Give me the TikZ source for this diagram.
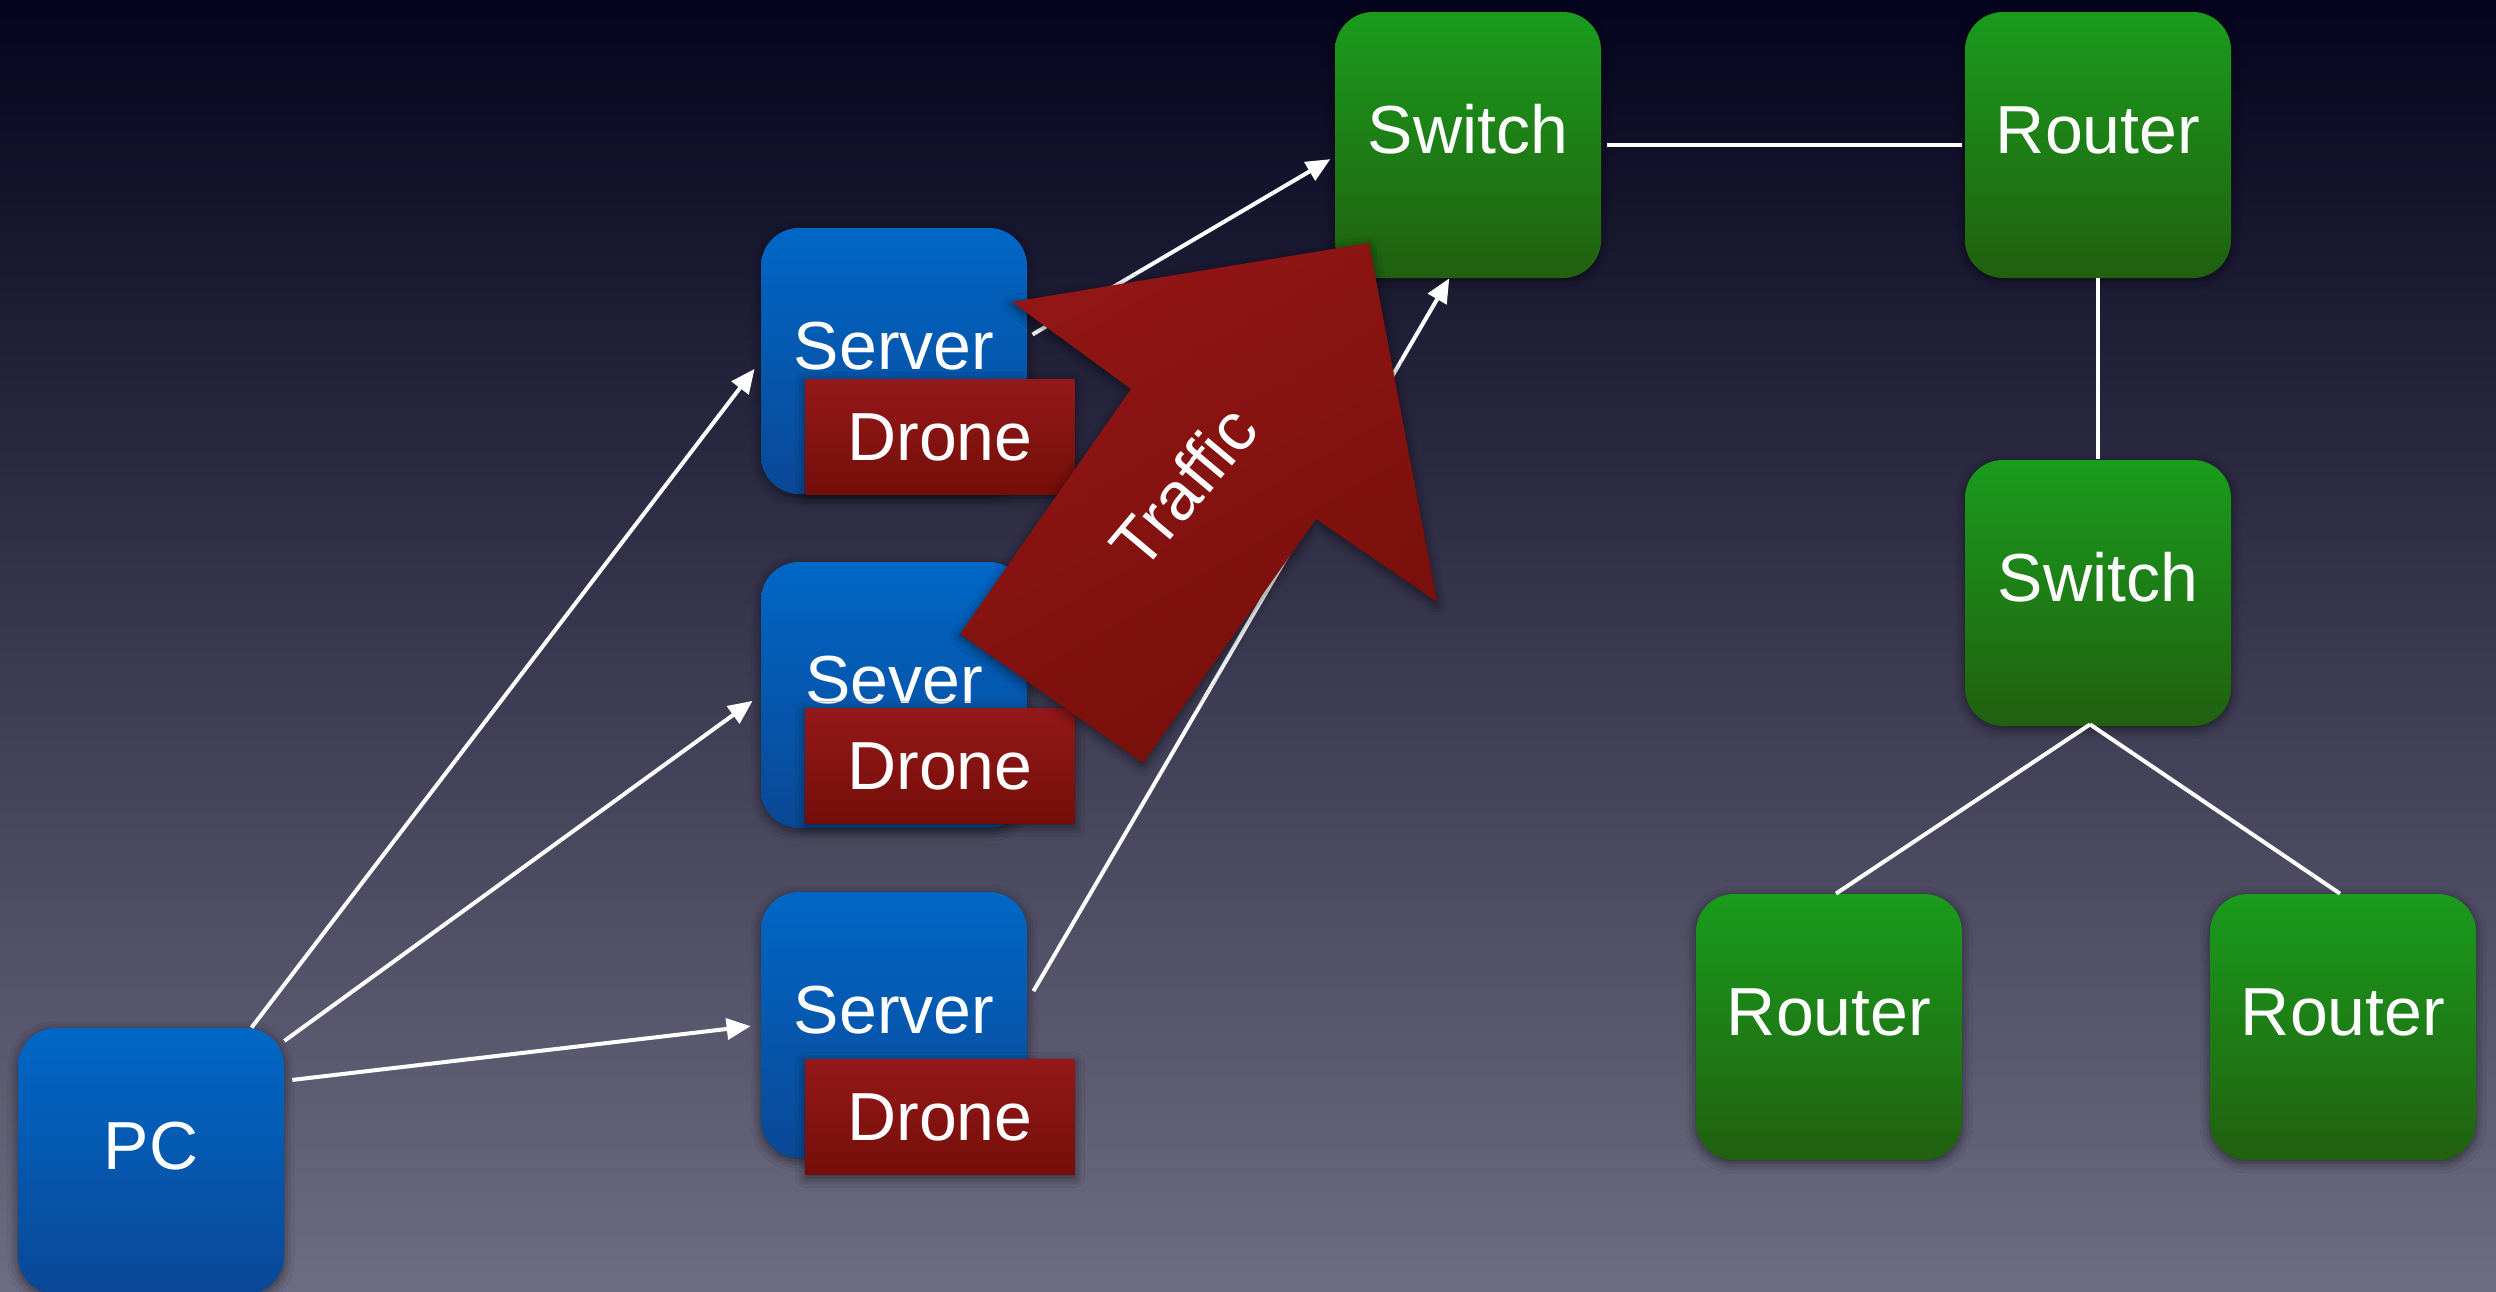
\documentclass[tikz,border=0pt]{standalone}
\usepackage{fontspec}
\setmainfont{Liberation Sans}
\usetikzlibrary{arrows.meta,shadows.blur}
\definecolor{bgtop}{RGB}{5,4,30}
\definecolor{bgbot}{RGB}{110,108,130}
\definecolor{gtop}{RGB}{26,156,28}
\definecolor{gbot}{RGB}{33,96,16}
\definecolor{btop}{RGB}{0,103,198}
\definecolor{bbot}{RGB}{10,72,150}
\definecolor{rtop}{RGB}{148,24,26}
\definecolor{rbot}{RGB}{116,14,8}
\definecolor{atop}{RGB}{146,22,22}
\definecolor{abot}{RGB}{118,15,10}
\begin{document}
\begin{tikzpicture}[x=0.5pt,y=-0.5pt,
  shad/.style={blur shadow={shadow xshift=0pt,shadow yshift=-1.5pt,shadow blur radius=5pt,shadow opacity=55}},
  lbl/.style={text=white,font=\fontsize{34}{40}\selectfont},
  box/.style={shad,lbl,rounded corners=19pt,minimum width=133pt,minimum height=133pt,inner sep=0pt,text height=26pt,text depth=18pt},
  netbox/.style={box,top color=gtop,bottom color=gbot},
  hostbox/.style={box,top color=btop,bottom color=bbot},
  dronebox/.style={shad,lbl,rectangle,minimum width=134.5pt,minimum height=57.5pt,inner sep=0pt,top color=rtop,bottom color=rbot},
  conn/.style={white,line width=2pt},
  arr/.style={conn,-{Triangle[length=12pt,width=10.5pt]}}]
\useasboundingbox (0,0) rectangle (2496,1291);
\shade[top color=bgtop,bottom color=bgbot] (0,0) rectangle (2496,1291);
% hosts
\node[hostbox] (pc) at (151,1161) {PC};
\node[hostbox] (s1) at (894,361) {Server};
\node[hostbox] (s2) at (894,695) {Sever};
\node[hostbox] (s3) at (894,1025) {Server};
\node[dronebox] (d1) at (940,437) {Drone};
\node[dronebox] (d2) at (940,766) {Drone};
\node[dronebox] (d3) at (940,1117) {Drone};
% network
\node[netbox] (sw1) at (1468,145) {Switch};
\node[netbox] (r1) at (2098,145) {Router};
\node[netbox] (sw2) at (2098,593) {Switch};
\node[netbox] (r2) at (1829,1027) {Router};
\node[netbox] (r3) at (2343,1027) {Router};
% connectors
\draw[arr,shorten >=5pt] (pc.53) -- (s1.west);
\draw[arr,shorten >=5pt] (pc.42) -- (s2.west);
\draw[arr,shorten <=4pt,shorten >=5pt] (pc.31) -- (s3.west);
\draw[arr,shorten <=3pt,shorten >=2.5pt] (s1.10) -- (sw1.185);
\draw[arr,shorten <=6pt] (s3.10) -- (sw1.262);
\draw[conn,shorten <=3pt,shorten >=1.5pt] (sw1.east) -- (r1.west);
\draw[conn,shorten >=0.5pt] (r1.south) -- (sw2.north);
\coordinate (apex) at ([xshift=-4pt,yshift=1pt]sw2.south);
\draw[conn] (apex) -- ([xshift=3.5pt]r2.north);
\draw[conn] (apex) -- ([xshift=-1.5pt]r3.north);
% traffic arrow
\path[shad,shading=axis,top color=atop,bottom color=abot,shading angle=30]
  (1012,302) -- (1369,243) -- (1437,602) -- (1316,519) -- (1143,763) -- (960,634) -- (1131,389) -- cycle;
\node[lbl,rotate=50] (traffic) at (1183,487) {Traffic};
\end{tikzpicture}
\end{document}
